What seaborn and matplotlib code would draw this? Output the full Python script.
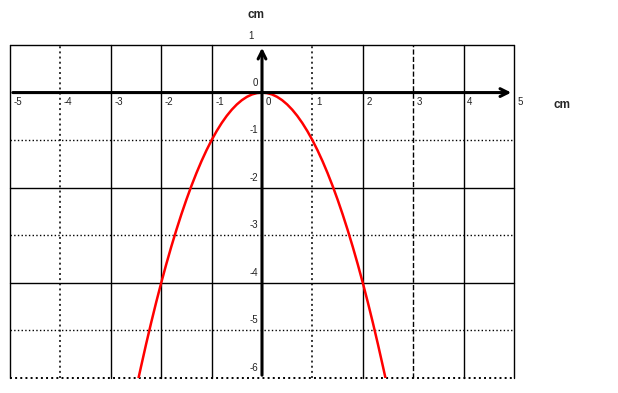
import numpy as np
import pandas as pd
import seaborn as sns
import matplotlib
matplotlib.use("Agg")
import matplotlib.pyplot as plt

# valores (parabola que pasa por el origen)
x_vals = [-2.45, -2.4, -2.3, -2.2, -2.1, -2.0, -1.9, -1.8, -1.7, -1.6, -1.5, -1.4, -1.3,
          -1.2, -1.1, -1.0, -0.9, -0.8, -0.7, -0.6, -0.5, -0.4, -0.3, -0.2, -0.1, 0.0,
          0.1, 0.2, 0.3, 0.4, 0.5, 0.6, 0.7, 0.8, 0.9, 1.0, 1.1, 1.2, 1.3, 1.4, 1.5,
          1.6, 1.7, 1.8, 1.9, 2.0, 2.1, 2.2, 2.3, 2.4, 2.45]
y_vals = [-6.0, -5.76, -5.29, -4.84, -4.41, -4.0, -3.61, -3.24, -2.89, -2.56, -2.25, -1.96, -1.69,
          -1.44, -1.21, -1.0, -0.81, -0.64, -0.49, -0.36, -0.25, -0.16, -0.09, -0.04, -0.01, 0.0,
          -0.01, -0.04, -0.09, -0.16, -0.25, -0.36, -0.49, -0.64, -0.81, -1.0, -1.21, -1.44, -1.69, -1.96, -2.25,
          -2.56, -2.89, -3.24, -3.61, -4.0, -4.41, -4.84, -5.29, -5.76, -6.0]

x_ticks = [-5, -4, -3, -2, -1, 0, 1, 2, 3, 4, 5]
y_ticks = [1, 0, -1, -2, -3, -4, -5, -6]

# estilo de cada linea de la rejilla
x_grid = {-5: "-", -4: ":", -3: "-", -2: "-", -1: "-", 1: ":", 2: "-", 3: "--", 4: "-", 5: "-"}
y_grid = {1: "-", -1: ":", -2: "-", -3: ":", -4: "-", -5: ":", -6: ":"}

df = pd.DataFrame({"x": x_vals, "y": y_vals})

sns.set_style("white")
plt.rcParams['font.family'] = ['Liberation Sans', 'DejaVu Sans']

fig = plt.figure(figsize=(6.18, 3.93), dpi=100)
ax = fig.add_axes([10 / 618, 15 / 393, 504 / 618, 333 / 393])
ax.set_xlim(-5, 5)
ax.set_ylim(-6, 1)
for s in ax.spines.values():
    s.set_visible(False)
ax.set_xticks([])
ax.set_yticks([])

for xv, ls in x_grid.items():
    lw = 1.4 if ls == ":" else 1.0
    col = "#333333" if ls == ":" else "black"
    ax.axvline(xv, color=col, ls=ls, lw=lw, clip_on=False)
for yv, ls in y_grid.items():
    lw = 1.4 if yv == -6 else 1.0
    ax.axhline(yv, color="black", ls=ls, lw=lw, clip_on=False)

sns.lineplot(data=df, x="x", y="y", color="#ff0000", lw=1.8, ax=ax, sort=False)

# ejes con flecha
ax.annotate("", xy=(5.0, 0), xytext=(-5, 0),
            arrowprops=dict(arrowstyle="->", lw=2.2, color="black", mutation_scale=14))
ax.annotate("", xy=(0, 1.0), xytext=(0, -6),
            arrowprops=dict(arrowstyle="->", lw=2.2, color="black", mutation_scale=14))

for t in x_ticks:
    ax.text(t + 0.07, -0.2, str(t), fontsize=7, ha="left", va="center", color="#222222")
for t in y_ticks:
    if t == 1:
        ax.text(-0.22, t + 0.18, str(t), fontsize=7, ha="center", va="center", color="#222222")
    else:
        ax.text(-0.07, t + 0.21, str(t), fontsize=7, ha="right", va="center", color="#222222")

fig.text(256 / 618, 1 - 15 / 393, "cm", fontsize=8.5, fontweight="bold", ha="center", va="center")
fig.text(562 / 618, 1 - 105 / 393, "cm", fontsize=8.5, fontweight="bold", ha="center", va="center")

fig.savefig("out.png", dpi=100)
